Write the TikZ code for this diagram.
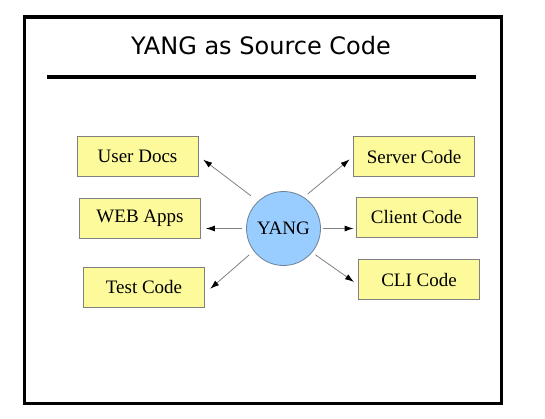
\documentclass[tikz,border=0pt]{standalone}
\usepackage{fontspec}
\setmainfont{Liberation Serif}
\newfontfamily\titlefont{DejaVu Sans}
\usetikzlibrary{arrows.meta}

\definecolor{boxfill}{RGB}{252,250,155}
\definecolor{boxline}{RGB}{128,128,128}
\definecolor{yangfill}{RGB}{153,204,255}
\definecolor{yangline}{RGB}{110,130,150}

\begin{document}
\begin{tikzpicture}[x=1pt, y=-1pt,
    >={Latex[length=9pt, width=6pt, color=black]},
    target/.style={draw=boxline, fill=boxfill, line width=0.8pt,
        minimum width=121pt, minimum height=40pt,
        font=\fontsize{19}{22}\selectfont},
    source/.style={circle, draw=yangline, fill=yangfill, line width=0.8pt,
        minimum size=74pt, inner sep=0pt,
        font=\fontsize{19}{22}\selectfont},
    every edge/.style={draw=gray, line width=0.8pt}]
    \useasboundingbox (0,0) rectangle (545,418);
    % Frame and title
    \draw[line width=3.5pt] (24.5,17) rectangle (501.5,403.5);
    \node[font=\titlefont\fontsize{24}{28}\selectfont] (title) at (261,46) {YANG as Source Code};
    \draw[line width=4pt] (47,77) -- (476,77);
    % Nodes
    \node[target](user)     at (137.5,156)  {User Docs};
    \node[target](web)      at (140,218)    {WEB Apps};
    \node[target](test)     at (144,287)    {Test Code};
    \node[source](yang)     at (283.5,228.5) {YANG};
    \node[target](server)   at (414,156.5)  {Server Code};
    \node[target](client)   at (416.5,217)  {Client Code};
    \node[target](cli)      at (419,279.5)  {CLI Code};
    % Transitions
    \path
        (yang.133)
            edge [->, shorten <=9pt, shorten >=6pt] (user.east)
        (yang.west)
            edge [->, shorten <=4.5pt, shorten >=5pt] (web.east |- yang.west)
        (yang.217)
            edge [->, shorten <=6pt, shorten >=7pt] (test.-6)
        (yang.57)
            edge [->, shorten <=5pt, shorten >=4.5pt] (server.west)
        (yang.east)
            edge [->, shorten <=2pt, shorten >=2pt] (client.west |- yang.east)
        (yang.-40)
            edge [->, shorten <=4pt, shorten >=5pt] (cli.185)
        ;
\end{tikzpicture}
\end{document}
